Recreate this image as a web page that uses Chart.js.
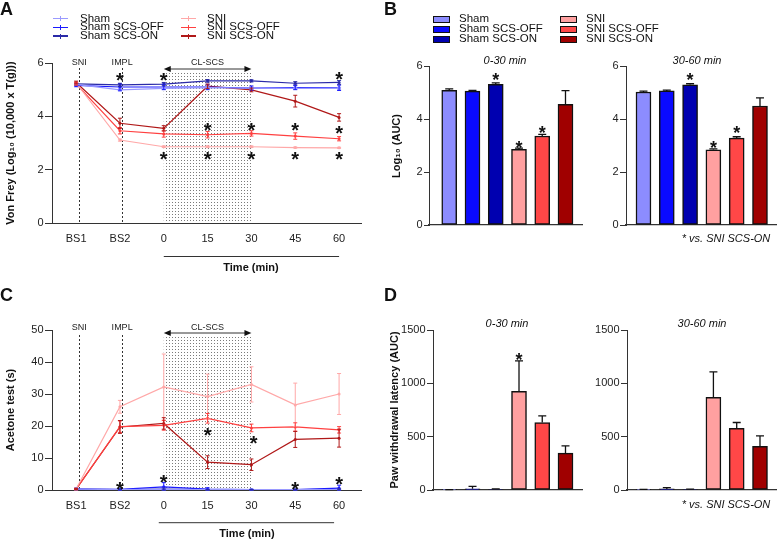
<!DOCTYPE html>
<html><head><meta charset="utf-8">
<script src="https://cdn.jsdelivr.net/npm/chart.js@4.4.1/dist/chart.umd.min.js"></script>
<style>
html,body{margin:0;padding:0;background:#fff;}
#root{position:relative;width:777px;height:540px;overflow:hidden;font-family:"Liberation Sans",Arial,Helvetica,sans-serif;color:#111;}
canvas{position:absolute;}
.t{position:absolute;white-space:nowrap;line-height:1;transform:translate(-50%,-50%);}
.l{position:absolute;white-space:nowrap;line-height:1;transform:translateY(-50%);font-size:11.5px;}
.panel{position:absolute;font-size:18px;font-weight:bold;line-height:1;}
.yt{position:absolute;white-space:nowrap;line-height:1;font-size:11px;font-weight:bold;transform:translate(-50%,-50%) rotate(-90deg);}
.sub{font-size:11px;font-style:italic;}
.bold{font-size:11px;font-weight:bold;}
</style></head>
<body><div id="root">
<canvas id="cA" width="390" height="280" style="left:0px;top:0px"></canvas>
<canvas id="cB1" width="195" height="280" style="left:390px;top:0px"></canvas>
<canvas id="cB2" width="192" height="280" style="left:585px;top:0px"></canvas>
<canvas id="cC" width="390" height="270" style="left:0px;top:270px"></canvas>
<canvas id="cD1" width="195" height="270" style="left:390px;top:270px"></canvas>
<canvas id="cD2" width="192" height="270" style="left:585px;top:270px"></canvas>

<div class="panel" style="left:0px;top:0px">A</div>
<div class="panel" style="left:384px;top:0px">B</div>
<div class="panel" style="left:0px;top:286px">C</div>
<div class="panel" style="left:384px;top:286px">D</div>

<div class="yt" style="left:10px;top:143px">Von Frey (Log₁₀ (10,000 x T(g)))</div>
<div class="yt" style="left:10px;top:410px">Acetone test (s)</div>
<div class="yt" style="left:396px;top:146px">Log₁₀ (AUC)</div>
<div class="yt" style="left:394px;top:410px">Paw withdrawal latency (AUC)</div>

<div class="t sub" style="left:505px;top:60px">0-30 min</div>
<div class="t sub" style="left:697px;top:60px">30-60 min</div>
<div class="t sub" style="left:507px;top:323px">0-30 min</div>
<div class="t sub" style="left:702px;top:323px">30-60 min</div>
<div class="t sub" style="left:726px;top:238px">* vs. SNI SCS-ON</div>
<div class="t sub" style="left:726px;top:504px">* vs. SNI SCS-ON</div>
<div class="t bold" style="left:251px;top:267px">Time (min)</div>
<div class="t bold" style="left:247px;top:533px">Time (min)</div>
<div id="legA"></div>
<div id="legB"></div>
</div>
<script>
// ---------- data ----------
const X_LABELS = ['BS1','BS2','0','15','30','45','60'];
const GROUPS = ['Sham','Sham SCS-OFF','Sham SCS-ON','SNI','SNI SCS-OFF','SNI SCS-ON'];
const COLORS = ['#8c8cff','#0a0aff','#0000b0','#ffa0a0','#ff4747','#a00000'];
const LINE_COLORS = ['#9a9aff','#1a1aff','#2a2aa8','#ffa8a8','#ff4040','#b01818'];

// Panel A: Von Frey, Log10(10,000 x T(g)), mean and SEM
const vfSham    = [5.20, 4.99, 5.05, 5.08, 5.06, 5.05, 5.05];
const vfShamOff = [5.16, 5.10, 5.10, 5.10, 5.06, 5.08, 5.07];
const vfShamOn  = [5.22, 5.18, 5.21, 5.33, 5.33, 5.24, 5.27];
const vfSNI     = [5.25, 3.11, 2.86, 2.86, 2.86, 2.83, 2.82];
const vfSNIOff  = [5.22, 3.46, 3.34, 3.31, 3.36, 3.26, 3.16];
const vfSNIOn   = [5.27, 3.74, 3.55, 5.13, 4.99, 4.57, 3.96];
const vfShamErr    = [0.04, 0.05, 0.04, 0.05, 0.04, 0.04, 0.04];
const vfShamOffErr = [0.05, 0.12, 0.10, 0.10, 0.08, 0.08, 0.10];
const vfShamOnErr  = [0.05, 0.06, 0.06, 0.05, 0.04, 0.06, 0.07];
const vfSNIErr     = [0.04, 0.04, 0.03, 0.03, 0.03, 0.02, 0.02];
const vfSNIOffErr  = [0.05, 0.12, 0.12, 0.12, 0.10, 0.12, 0.08];
const vfSNIOnErr   = [0.05, 0.19, 0.10, 0.08, 0.07, 0.22, 0.14];
const vfStars = [[1,5.53],[2,5.53],[6,5.57],[3,3.66],[4,3.66],[5,3.66],[6,3.53],[2,2.55],[3,2.55],[4,2.55],[5,2.55],[6,2.55]];

// Panel B: AUC of Von Frey, Log10
const aucVF030      = [5.08, 5.05, 5.31, 2.86, 3.36, 4.55];
const aucVF030Err   = [0.06, 0.03, 0.05, 0.04, 0.06, 0.52];
const aucVF3060     = [5.02, 5.06, 5.29, 2.84, 3.28, 4.49];
const aucVF3060Err  = [0.03, 0.03, 0.04, 0.03, 0.05, 0.31];
const aucVF030Stars  = [[2,5.64],[3,3.08],[4,3.64]];
const aucVF3060Stars = [[2,5.64],[3,3.08],[4,3.62]];

// Panel C: Acetone test (s), mean and SEM
const acSham    = [0.3, 0.1, 0.2, 0.1, 0.1, 0.1, 0.1];
const acShamOff = [0.3, 0.2, 1.0, 0.3, 0.1, 0.1, 0.6];
const acShamOn  = [0.3, 0.1, 0.3, 0.1, 0.1, 0.1, 0.2];
const acSNI     = [0.3, 26.0, 32.2, 29.2, 33.0, 26.6, 30.0];
const acSNIOff  = [0.3, 19.8, 20.2, 22.4, 19.4, 19.7, 18.8];
const acSNIOn   = [0.3, 19.7, 20.8, 8.7, 7.9, 15.8, 16.2];
const acShamErr    = [0.2, 0.1, 0.3, 0.1, 0.1, 0.1, 0.2];
const acShamOffErr = [0.3, 0.2, 1.3, 0.4, 0.1, 0.1, 0.9];
const acShamOnErr  = [0.2, 0.1, 0.3, 0.1, 0.1, 0.1, 0.2];
const acSNIErr     = [0.3, 2.0, 10.3, 7.0, 5.5, 6.8, 6.4];
const acSNIOffErr  = [0.2, 1.8, 1.5, 1.5, 1.2, 1.3, 1.0];
const acSNIOnErr   = [0.2, 2.0, 1.8, 2.0, 1.8, 2.5, 2.8];
const acStars = [[3,18.6],[4.05,16.1],[1,1.8],[2,4.0],[5,1.8],[6,3.3]];

// Panel D: AUC of paw withdrawal latency
const aucAc030      = [2, 12, 5, 925, 632, 345];
const aucAc030Err   = [2, 22, 5, 285, 62, 68];
const aucAc3060     = [3, 10, 5, 868, 578, 410];
const aucAc3060Err  = [3, 12, 4, 240, 55, 98];
const aucAc030Stars  = [[3,1262]];
const aucAc3060Stars = [];

const EVENTS = [{label:'SNI', x:0.07},{label:'IMPL', x:1.05}];
const SCS_RANGE = [2, 4];
const SCS_LABEL = 'CL-SCS';

// ---------- setup ----------
Chart.defaults.font.family = '"Liberation Sans", Arial, Helvetica, sans-serif';
Chart.defaults.font.size = 11;
Chart.defaults.color = '#222';
Chart.defaults.animation = false;
Chart.defaults.responsive = false;
Chart.defaults.devicePixelRatio = 1;
Chart.defaults.plugins.legend.display = false;
Chart.defaults.plugins.tooltip.enabled = false;

const AX = '#333';

function dotPattern(ctx){
  const c = document.createElement('canvas'); c.width = 3; c.height = 3;
  const g = c.getContext('2d'); g.fillStyle = '#7a7a7a'; g.fillRect(1,1,1,1);
  return ctx.createPattern(c, 'repeat');
}
function drawStars(ctx, x, y, stars, size){
  ctx.save();
  ctx.fillStyle = '#111';
  ctx.font = 'bold ' + size + 'px "Liberation Sans", Arial, sans-serif';
  ctx.textAlign = 'center'; ctx.textBaseline = 'alphabetic';
  stars.forEach(([sx, sy]) => {
    ctx.fillText('*', x.getPixelForValue(sx), y.getPixelForValue(sy) + size*0.57);
  });
  ctx.restore();
}

function yAxis(max, step, width, tickLen, tickPad){
  return {type:'linear', min:0, max:max,
    ticks:{stepSize:step, padding:tickPad, color:'#222', font:{size:11}, callback:(v) => String(v)},
    grid:{drawOnChartArea:false, drawTicks:true, tickLength:tickLen, color:AX, lineWidth:1},
    border:{display:true, color:AX, width:1},
    afterFit: s => { s.width = width; }};
}

function lineX(height, pad){
  return {type:'linear', min:-0.55, max:6.5, offset:false,
    afterBuildTicks: s => { s.ticks = X_LABELS.map((_, i) => ({value:i})); },
    ticks:{callback:(v) => X_LABELS[v] !== undefined ? X_LABELS[v] : '', padding:pad, color:'#222', font:{size:11}, maxRotation:0, autoSkip:false},
    grid:{display:true, drawOnChartArea:false, drawTicks:false},
    border:{display:true, color:AX, width:1},
    afterFit: s => { s.height = height; }};
}

function lineDatasets(means, errs){
  return means.map((m, k) => ({
    label: GROUPS[k],
    data: m.map((v, i) => ({x:i, y:v})),
    errors: errs[k],
    borderColor: LINE_COLORS[k], backgroundColor: LINE_COLORS[k],
    borderWidth: 1.2, pointRadius: 1.5, pointBorderWidth: 0, tension: 0
  }));
}

function lineDecor(cfg){
  return {
    id: 'decor',
    beforeDatasetsDraw(chart){
      const {ctx, chartArea:a, scales:{x, y}} = chart;
      ctx.save();
      const x0 = x.getPixelForValue(SCS_RANGE[0]), x1 = x.getPixelForValue(SCS_RANGE[1]);
      ctx.fillStyle = dotPattern(ctx);
      ctx.fillRect(x0, a.top + cfg.shadeTop, x1 - x0, a.bottom - a.top - cfg.shadeTop);
      ctx.strokeStyle = '#333'; ctx.lineWidth = 1; ctx.setLineDash([2, 2]);
      EVENTS.forEach(ev => {
        const px = Math.round(x.getPixelForValue(ev.x)) + 0.5;
        ctx.beginPath(); ctx.moveTo(px, a.top + cfg.dashTop); ctx.lineTo(px, a.bottom); ctx.stroke();
      });
      ctx.setLineDash([]);
      ctx.fillStyle = '#222'; ctx.textAlign = 'center'; ctx.textBaseline = 'middle';
      ctx.font = '9px "Liberation Sans Narrow", "Liberation Sans", sans-serif';
      EVENTS.forEach(ev => ctx.fillText(ev.label, x.getPixelForValue(ev.x), a.top + cfg.labelY));
      ctx.font = '9px "Liberation Sans", sans-serif';
      ctx.fillText(SCS_LABEL, (x0 + x1) / 2, a.top + cfg.labelY);
      const ay = a.top + cfg.arrowY;
      ctx.strokeStyle = '#333'; ctx.fillStyle = '#111';
      ctx.beginPath(); ctx.moveTo(x0 + 6, ay); ctx.lineTo(x1 - 6, ay); ctx.stroke();
      ctx.beginPath(); ctx.moveTo(x0, ay); ctx.lineTo(x0 + 7, ay - 3); ctx.lineTo(x0 + 7, ay + 3); ctx.closePath(); ctx.fill();
      ctx.beginPath(); ctx.moveTo(x1, ay); ctx.lineTo(x1 - 7, ay - 3); ctx.lineTo(x1 - 7, ay + 3); ctx.closePath(); ctx.fill();
      ctx.restore();
    },
    afterDatasetsDraw(chart){
      const {ctx, chartArea:a, scales:{x, y}} = chart;
      ctx.save();
      chart.data.datasets.forEach(ds => {
        ctx.strokeStyle = ds.borderColor; ctx.lineWidth = 1;
        ds.data.forEach((p, i) => {
          const e = ds.errors[i]; if (!e) return;
          const px = x.getPixelForValue(p.x);
          const t = y.getPixelForValue(p.y + e), b = y.getPixelForValue(Math.max(0, p.y - e));
          ctx.beginPath();
          ctx.moveTo(px, t); ctx.lineTo(px, b);
          ctx.moveTo(px - 2, t); ctx.lineTo(px + 2, t);
          ctx.moveTo(px - 2, b); ctx.lineTo(px + 2, b);
          ctx.stroke();
        });
      });
      ctx.strokeStyle = '#333'; ctx.lineWidth = 1;
      const uy = a.bottom + cfg.underY;
      ctx.beginPath();
      ctx.moveTo(x.getPixelForValue(2) + cfg.underDx, uy);
      ctx.lineTo(x.getPixelForValue(6) + cfg.underDx, uy);
      ctx.stroke();
      ctx.restore();
      drawStars(ctx, x, y, cfg.stars, 20);
    }
  };
}

function makeLine(id, means, errs, yMax, yStep, top, xHeight, tickPad, cfg){
  return new Chart(document.getElementById(id), {
    type: 'line',
    data: {datasets: lineDatasets(means, errs)},
    options: {
      layout: {padding: {left:0, top:top, right:29, bottom:0}},
      scales: {x: lineX(xHeight, tickPad), y: yAxis(yMax, yStep, 52, 7, 1.5)}
    },
    plugins: [lineDecor(cfg)]
  });
}

function barDecor(stars){
  return {
    id: 'bardecor',
    afterDatasetsDraw(chart){
      const {ctx, scales:{x, y}} = chart;
      ctx.save();
      ctx.strokeStyle = '#111'; ctx.lineWidth = 1.3;
      const ds = chart.data.datasets[0];
      ds.data.forEach((p, i) => {
        const e = ds.errors[i]; if (!e) return;
        const px = x.getPixelForValue(p.x);
        const b = y.getPixelForValue(p.y), t = y.getPixelForValue(p.y + e);
        ctx.beginPath();
        ctx.moveTo(px, b); ctx.lineTo(px, t);
        ctx.moveTo(px - 4, t); ctx.lineTo(px + 4, t);
        ctx.stroke();
      });
      ctx.restore();
      drawStars(ctx, x, y, stars, 18);
    }
  };
}

function makeBar(id, vals, errs, stars, yMax, yStep, yWidth, tickLen, xMin, xMax, top, xHeight, rightPad){
  return new Chart(document.getElementById(id), {
    type: 'bar',
    data: {datasets: [{
      data: vals.map((v, i) => ({x:i, y:v})),
      errors: errs,
      backgroundColor: COLORS, borderColor: '#111', borderWidth: 1.5,
      borderSkipped: false, barThickness: 15
    }]},
    options: {
      layout: {padding: {left:0, top:top, right:rightPad, bottom:0}},
      scales: {
        x: {type:'linear', min:xMin, max:xMax, offset:false,
            ticks:{display:false}, grid:{display:false, drawTicks:false, offset:false},
            border:{display:true, color:AX, width:1.2},
            afterFit: s => { s.height = xHeight; }},
        y: yAxis(yMax, yStep, yWidth, tickLen, 1.5)
      }
    },
    plugins: [barDecor(stars)]
  });
}

// Panel A
makeLine('cA',
  [vfSham, vfShamOff, vfShamOn, vfSNI, vfSNIOff, vfSNIOn],
  [vfShamErr, vfShamOffErr, vfShamOnErr, vfSNIErr, vfSNIOffErr, vfSNIOnErr],
  6, 2, 63, 57, 9,
  {shadeTop:10, dashTop:5, labelY:0, arrowY:6, underY:33.5, underDx:0, stars:vfStars});

// Panel C
makeLine('cC',
  [acSham, acShamOff, acShamOn, acSNI, acSNIOff, acSNIOn],
  [acShamErr, acShamOffErr, acShamOnErr, acSNIErr, acSNIOffErr, acSNIOnErr],
  50, 10, 60, 50, 9.5,
  {shadeTop:6, dashTop:5, labelY:-2, arrowY:3, underY:32.7, underDx:-5, stars:acStars});

// Panel B
makeBar('cB1', aucVF030, aucVF030Err, aucVF030Stars, 6, 2, 39, 5, -0.87, 5.71, 66, 55, 3);
makeBar('cB2', aucVF3060, aucVF3060Err, aucVF3060Stars, 6, 2, 41, 6, -0.75, 5.73, 66, 55, 0);
// Panel D
makeBar('cD1', aucAc030, aucAc030Err, aucAc030Stars, 1500, 500, 43, 6, -0.70, 5.71, 60, 50, 3);
makeBar('cD2', aucAc3060, aucAc3060Err, aucAc3060Stars, 1500, 500, 42, 6, -0.71, 5.73, 60, 50, 0);

// ---------- legends ----------
(function(){
  const root = document.getElementById('root');
  const rowsA = [18.5, 27.3, 36];
  const rowsB = [19, 29.3, 39.3];
  GROUPS.forEach((g, k) => {
    const col = Math.floor(k / 3), row = k % 3;
    const symX = col ? 181 : 53, txtX = col ? 207 : 80;
    const sy = rowsA[row];
    const line = document.createElement('div');
    line.style.cssText = `position:absolute;left:${symX}px;top:${sy - 0.75}px;width:15px;height:1.5px;background:${LINE_COLORS[k]}`;
    const tick = document.createElement('div');
    tick.style.cssText = `position:absolute;left:${symX + 7}px;top:${sy - 2.5}px;width:1px;height:5px;background:${LINE_COLORS[k]}`;
    const ta = document.createElement('div');
    ta.className = 'l'; ta.style.left = txtX + 'px'; ta.style.top = sy + 'px'; ta.textContent = g;
    root.appendChild(line); root.appendChild(tick); root.appendChild(ta);
    const bx = col ? 560 : 433, btx = col ? 586 : 459;
    const by = rowsB[row];
    const sw = document.createElement('div');
    sw.style.cssText = `position:absolute;left:${bx}px;top:${by - 3.5}px;width:17px;height:7px;box-sizing:border-box;border:1.5px solid #111;background:${COLORS[k]}`;
    const tb = document.createElement('div');
    tb.className = 'l'; tb.style.left = btx + 'px'; tb.style.top = by + 'px'; tb.textContent = g;
    root.appendChild(sw); root.appendChild(tb);
  });
})();
</script>
</body></html>
